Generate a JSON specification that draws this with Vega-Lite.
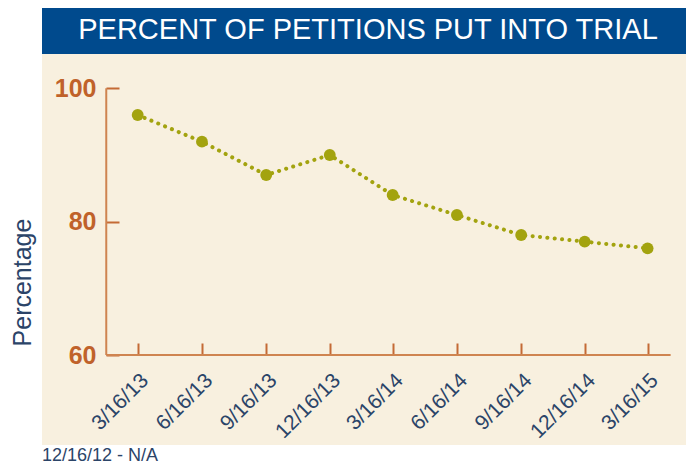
{
  "$schema": "https://vega.github.io/schema/vega-lite/v6.json",
  "padding": {"left": 10, "top": 8, "right": 0, "bottom": 0},
  "background": "white",
  "spacing": 0,
  "config": {"font": "Liberation Sans", "view": {"stroke": null}},
  "vconcat": [
    {
      "width": 644,
      "height": 46,
      "view": {"fill": "#004a8d", "stroke": null},
      "data": {"values": [{"t": "PERCENT OF PETITIONS PUT INTO TRIAL"}]},
      "mark": {"type": "text", "color": "white", "fontSize": 29, "font": "Liberation Sans", "baseline": "middle", "align": "center", "dy": -1, "dx": 4},
      "encoding": {"text": {"field": "t"}}
    },
    {
      "width": 644,
      "height": 391,
      "view": {"fill": "#f8f0df", "stroke": null},
      "title": {"text": "12/16/12 - N/A", "orient": "bottom", "anchor": "start", "frame": "group", "fontSize": 18, "fontWeight": "normal", "color": "#2b4468", "font": "Liberation Sans", "offset": 2, "baseline": "top"},
      "data": {"values": [
        {"date": "2013-03-16", "pct": 96},
        {"date": "2013-06-16", "pct": 92},
        {"date": "2013-09-16", "pct": 87},
        {"date": "2013-12-16", "pct": 90},
        {"date": "2014-03-16", "pct": 84},
        {"date": "2014-06-16", "pct": 81},
        {"date": "2014-09-16", "pct": 78},
        {"date": "2014-12-16", "pct": 77},
        {"date": "2015-03-16", "pct": 76}
      ]},
      "layer": [
        {
          "mark": {"type": "line", "color": "#a3a30f", "strokeWidth": 4, "strokeCap": "round", "strokeDash": [0.1, 7.3]},
          "encoding": {
            "x": {
              "field": "date", "type": "temporal",
              "scale": {"type": "utc", "nice": false, "domain": [{"year": 2012, "month": 10, "date": 30, "utc": true}, {"year": 2015, "month": 5, "date": 10, "utc": true}]},
              "axis": {
                "title": null,
                "values": [
                  {"year": 2013, "month": 3, "date": 16, "utc": true},
                  {"year": 2013, "month": 6, "date": 16, "utc": true},
                  {"year": 2013, "month": 9, "date": 16, "utc": true},
                  {"year": 2013, "month": 12, "date": 16, "utc": true},
                  {"year": 2014, "month": 3, "date": 16, "utc": true},
                  {"year": 2014, "month": 6, "date": 16, "utc": true},
                  {"year": 2014, "month": 9, "date": 16, "utc": true},
                  {"year": 2014, "month": 12, "date": 16, "utc": true},
                  {"year": 2015, "month": 3, "date": 16, "utc": true}
                ],
                "format": "%-m/%-d/%y",
                "labelAngle": -45, "labelAlign": "right", "labelBaseline": "middle",
                "labelFontSize": 21, "labelColor": "#2b4468", "labelFont": "Liberation Sans",
                "labelPadding": 34, "labelOffset": 7,
                "labelFlush": false, "labelOverlap": false, "labelBound": false,
                "tickSize": -12, "tickWidth": 2, "tickColor": "#c46a35",
                "domain": false, "grid": false, "offset": -90
              }
            },
            "y": {
              "field": "pct", "type": "quantitative",
              "scale": {"domain": [46.5, 105.15], "nice": false, "zero": false},
              "axis": {
                "title": "Percentage", "values": [60, 80, 100],
                "labelFontSize": 25, "labelFontWeight": "bold", "labelColor": "#c0622a", "labelFont": "Liberation Sans",
                "labelPadding": 23, "labelOverlap": false,
                "tickSize": -13, "tickWidth": 2, "tickColor": "#c46a35",
                "domain": false, "grid": false, "offset": -64,
                "titleFontSize": 25, "titleFontWeight": "normal", "titleColor": "#2b4468", "titleFont": "Liberation Sans",
                "titlePadding": 19, "titleY": 228
              }
            }
          }
        },
        {
          "mark": {"type": "point", "filled": true, "size": 140, "color": "#a3a30f", "opacity": 1},
          "encoding": {
            "x": {"field": "date", "type": "temporal"},
            "y": {"field": "pct", "type": "quantitative"}
          }
        },
        {
          "data": {"values": [{"part": "x axis"}]},
          "mark": {"type": "rule", "color": "#cf8450", "strokeWidth": 2},
          "encoding": {
            "x": {"datum": {"year": 2013, "month": 1, "date": 30, "utc": true}, "type": "temporal"},
            "x2": {"datum": {"year": 2015, "month": 4, "date": 18, "utc": true}},
            "y": {"datum": 60, "type": "quantitative"}
          }
        },
        {
          "data": {"values": [{"part": "y axis"}]},
          "mark": {"type": "rule", "color": "#cf8450", "strokeWidth": 2},
          "encoding": {
            "x": {"datum": {"year": 2013, "month": 1, "date": 30, "utc": true}, "type": "temporal"},
            "y": {"datum": 60, "type": "quantitative"},
            "y2": {"datum": 100}
          }
        }
      ]
    }
  ]
}
